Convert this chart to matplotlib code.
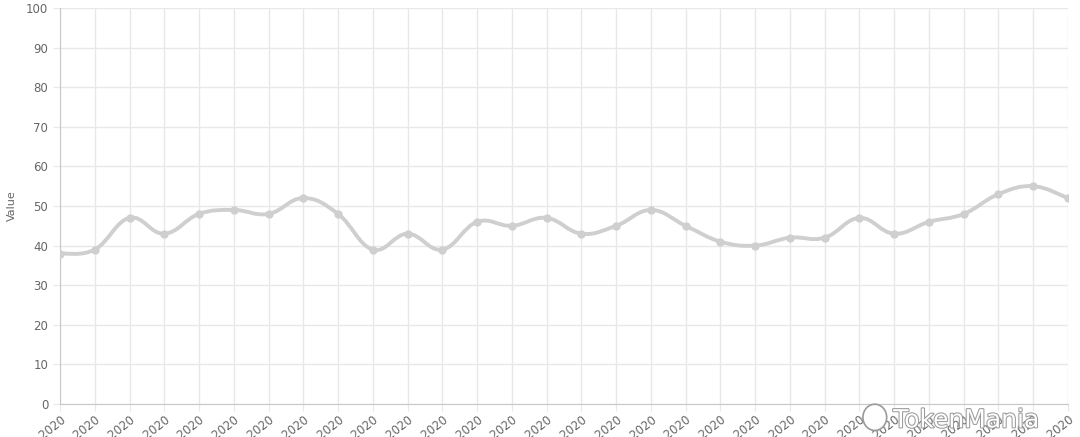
import matplotlib.pyplot as plt
import matplotlib.patheffects as pe
from matplotlib.path import Path
from matplotlib.patches import PathPatch, Ellipse
import numpy as np

# daily values, 13 Sep -> 12 Oct 2020
days = list(range(13, 31)) + list(range(1, 13))
months = ["Sep"] * 18 + ["Oct"] * 12
labels = ["%02d %s, 2020" % (d, m) for d, m in zip(days, months)]
values = [38, 39, 47, 43, 48, 49, 48, 52, 48, 39,
          43, 39, 46, 45, 47, 43, 45, 49, 45, 41,
          40, 42, 42, 47, 43, 46, 48, 53, 55, 52]

line_col = "#cfcfcf"
grid_col = "#e8e8e8"
text_col = "#666666"


def smooth_path(xs, ys, tension=0.4):
    # chart.js style bezier curve through the points
    verts = [(xs[0], ys[0])]
    codes = [Path.MOVETO]
    n = len(xs)
    for i in range(n - 1):
        x0, y0 = (xs[i - 1], ys[i - 1]) if i > 0 else (xs[i], ys[i])
        x1, y1 = xs[i], ys[i]
        x2, y2 = xs[i + 1], ys[i + 1]
        x3, y3 = (xs[i + 2], ys[i + 2]) if i + 2 < n else (x2, y2)
        c1 = (x1 + (x2 - x0) * tension / 2, y1 + (y2 - y0) * tension / 2)
        c2 = (x2 - (x3 - x1) * tension / 2, y2 - (y3 - y1) * tension / 2)
        verts += [c1, c2, (x2, y2)]
        codes += [Path.CURVE4] * 3
    return Path(verts, codes)


fig = plt.figure(figsize=(10.8, 4.37), dpi=100)
ax = fig.add_axes([60 / 1080, 33 / 437, 1008 / 1080, 396 / 437])

x = np.arange(len(values))
ax.add_patch(PathPatch(smooth_path(list(x), values), facecolor="none",
                       edgecolor=line_col, lw=2.8, zorder=3))
ax.plot(x, values, "o", color=line_col, ms=5, zorder=4)

ax.set_xlim(0, len(values) - 1)
ax.set_ylim(0, 100)
ax.set_yticks(range(0, 101, 10))
ax.set_xticks(x)
ax.set_xticklabels(labels, rotation=38, ha="right", rotation_mode="anchor")
ax.grid(True, color=grid_col, lw=1)
ax.set_axisbelow(True)
ax.tick_params(colors=text_col, labelsize=8.5, length=5, color=grid_col)
ax.tick_params(axis="x", pad=2)
for s in ["top", "right"]:
    ax.spines[s].set_visible(False)
for s in ["left", "bottom"]:
    ax.spines[s].set_color("#c8c8c8")
ax.set_ylabel("Value", color=text_col, fontsize=8)
ax.yaxis.set_label_coords(-43 / 1008, 0.5)

# watermark
fig.patches.append(Ellipse((0.81, 0.045), 0.022, 0.06, transform=fig.transFigure,
                           facecolor="white", edgecolor="#9a9a9a", lw=1.2))
fig.text(0.827, 0.022, "TokenMania", fontsize=18, color="white",
         path_effects=[pe.withStroke(linewidth=1.5, foreground="#9a9a9a")])

fig.savefig("out.png", dpi=100)
